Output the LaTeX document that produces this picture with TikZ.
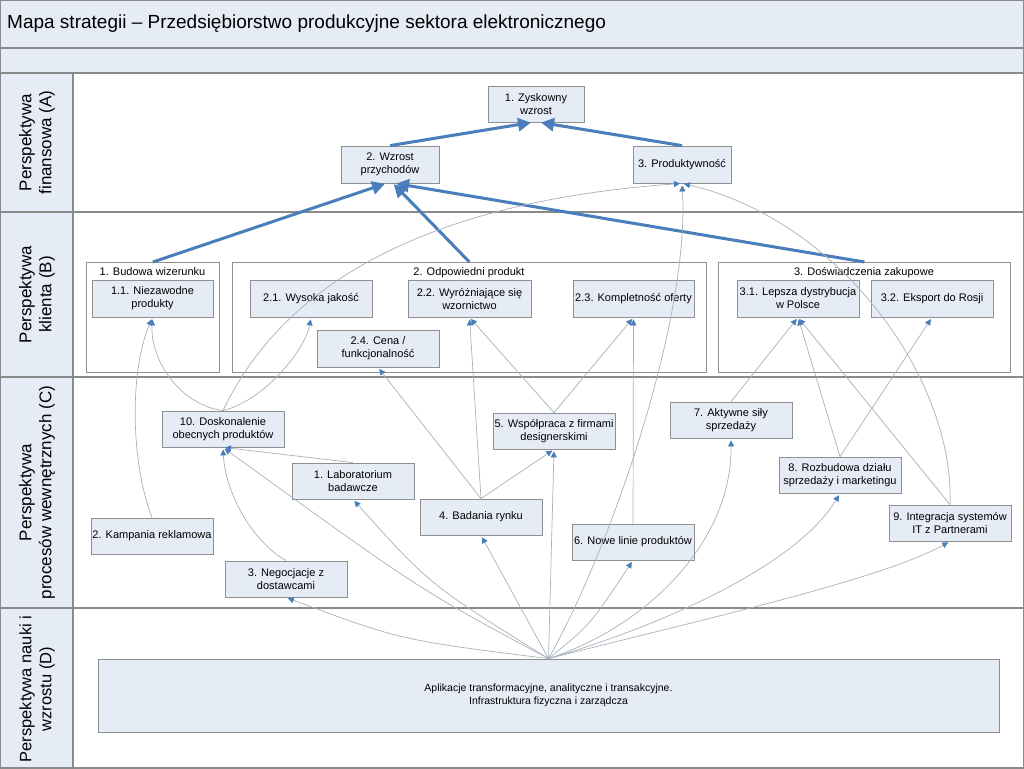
\documentclass[tikz,border=0pt]{standalone}
\usepackage{fontspec}
\setmainfont{Liberation Sans}
\usetikzlibrary{arrows.meta,calc}
\definecolor{boxfill}{HTML}{E6ECF6}
\definecolor{boxline}{HTML}{8F8F8F}
\definecolor{laneline}{HTML}{8A8A8A}
\definecolor{thinline}{HTML}{A9B1BC}
\definecolor{arrowblue}{HTML}{4A7EBB}
\begin{document}
\begin{tikzpicture}[x=1pt,y=-1pt,
  box/.style={draw=boxline, fill=boxfill, line width=0.8pt, minimum width=122pt, minimum height=36pt, inner sep=1pt, align=center, font=\fontsize{11}{13}\selectfont},
  grp/.style={draw=boxline, fill=white, line width=0.8pt, inner sep=0pt, anchor=north west},
  grptitle/.style={font=\fontsize{11}{13}\selectfont, inner sep=0pt, anchor=base},
  lanelabel/.style={rotate=90, align=center, font=\fontsize{17}{20}\selectfont, inner sep=0pt},
  weak/.style={draw=thinline, line width=0.7pt, -{Triangle[length=6pt,width=6pt,color=arrowblue]}, shorten >=2pt},
  strong/.style={draw=arrowblue, line width=3pt, -{Triangle[length=13pt,width=13pt]}, shorten >=1pt},
  lane/.style={draw=laneline, line width=1.1pt}
]
\useasboundingbox (0,0) rectangle (1024,768);
% background bands
\fill[white] (0,0) rectangle (1024,768);
\fill[boxfill] (0,0) rectangle (1024,73);
\fill[boxfill] (0,73) rectangle (73,768);
\draw[lane] (0,48) -- (1024,48);
\draw[lane] (0,73) -- (1024,73);
\draw[lane] (0,212) -- (1024,212);
\draw[lane] (0,377) -- (1024,377);
\draw[lane] (0,608) -- (1024,608);
\draw[lane] (73,73) -- (73,768);
\draw[laneline, line width=1.6pt] (0,0) rectangle (1024,768);

\node[anchor=west, font=\fontsize{19}{22}\selectfont, inner sep=0pt] (title) at (7,24) {Mapa strategii – Przedsiębiorstwo produkcyjne sektora elektronicznego};

\node[lanelabel] (lA) at (37,142.5) {Perspektywa\\finansowa (A)};
\node[lanelabel] (lB) at (37,294.5) {Perspektywa\\klienta (B)};
\node[lanelabel] (lC) at (37,492.5) {Perspektywa\\procesów wewnętrznych (C)};
\node[lanelabel, font=\fontsize{16.5}{20}\selectfont] (lD) at (37,689) {Perspektywa nauki i\\wzrostu (D)};

% lane A
\node[box, minimum width=96pt] (zysk) at (536,104) {1. Zyskowny\\wzrost};
\node[box, minimum width=98pt, minimum height=37pt] (wzrost) at (390,164.5) {2. Wzrost\\przychodów};
\node[box, minimum width=98pt, minimum height=37pt] (prod) at (682,164.5) {3. Produktywność};

% lane B groups
\node[grp, minimum width=133pt, minimum height=110pt] (g1) at (86,262) {};
\node[grp, minimum width=474pt, minimum height=110pt] (g2) at (232,262) {};
\node[grp, minimum width=292pt, minimum height=110pt] (g3) at (718,262) {};
\node[grptitle] (g1t) at (152.5,275) {1. Budowa wizerunku};
\node[grptitle] (g2t) at (469,275) {2. Odpowiedni produkt};
\node[grptitle] (g3t) at (864,275) {3. Doświadczenia zakupowe};

\node[box, minimum width=121pt, minimum height=37pt] (b11) at (152.5,298.5) {1.1. Niezawodne\\produkty};
\node[box, minimum height=37pt] (b21) at (311,298.5) {2.1. Wysoka jakość};
\node[box, minimum width=123pt, minimum height=37pt] (b22) at (469.5,298.5) {2.2. Wyróżniające się\\wzornictwo};
\node[box, minimum width=121pt, minimum height=37pt] (b23) at (633.5,298.5) {2.3. Kompletność oferty};
\node[box, minimum height=37pt] (b24) at (378,348.5) {2.4. Cena /\\funkcjonalność};
\node[box, minimum height=37pt] (b31) at (798,298.5) {3.1. Lepsza dystrybucja\\w Polsce};
\node[box, minimum height=37pt] (b32) at (932,298.5) {3.2. Eksport do Rosji};

% lane C
\node[box] (c10) at (223,429) {10. Doskonalenie\\obecnych produktów};
\node[box] (c1) at (353,481) {1. Laboratorium\\badawcze};
\node[box] (c2) at (152,536) {2. Kampania reklamowa};
\node[box] (c3) at (286,579) {3. Negocjacje z\\dostawcami};
\node[box] (c4) at (481,517) {4. Badania rynku};
\node[box] (c5) at (554,431) {5. Współpraca z firmami\\designerskimi};
\node[box] (c6) at (633,542) {6. Nowe linie produktów};
\node[box] (c7) at (731,420) {7. Aktywne siły\\sprzedaży};
\node[box] (c8) at (840,475) {8. Rozbudowa działu\\sprzedaży i marketingu};
\node[box] (c9) at (950,523) {9. Integracja systemów\\IT z Partnerami};

% lane D
\node[box, minimum width=901pt, minimum height=73pt, font=\fontsize{10.5}{13}\selectfont] (d) at (548.5,695.5) {Aplikacje transformacyjne, analityczne i transakcyjne.\\Infrastruktura fizyczna i zarządcza};

% strong connectors
\draw[strong] (wzrost.north) -- ($(zysk.south)+(-4,0)$);
\draw[strong] (prod.north) -- ($(zysk.south)+(4,0)$);
\draw[strong] (g1.north) -- ($(wzrost.south)+(-4,0)$);
\draw[strong] (g2.north) -- ($(wzrost.south)+(3,0)$);
\draw[strong] (g3.north) -- ($(wzrost.south)+(5,0)$);

% fan from D
\draw[weak] (d.north) .. controls (400,640) .. (c3.south);
\draw[weak] (d.north) .. controls (420,590) .. (c10.south);
\draw[weak] (d.north) .. controls (430,585) .. (c1.south);
\draw[weak] (d.north) -- (c4.south);
\draw[weak] (d.north) -- (c5.south);
\draw[weak] (d.north) .. controls (610,550) and (690,320) .. (prod.south);
\draw[weak] (d.north) .. controls (590,625) .. (c6.south);
\draw[weak] (d.north) .. controls (650,625) and (732,540) .. (c7.south);
\draw[weak] (d.north) .. controls (680,620) and (800,560) .. (c8.south);
\draw[weak] (d.north) .. controls (700,620) and (880,580) .. (c9.south);

% C to B / A
\draw[weak] (c10.north) .. controls (180,405) and (150,360) .. (b11.south);
\draw[weak] (c10.north) .. controls (265,400) and (305,350) .. (b21.south);
\draw[weak] (c10.north) .. controls (290,270) and (450,200) .. (prod.south);
\draw[weak] (c2.north) .. controls (130,460) and (130,370) .. (b11.south);
\draw[weak] (c3.north) .. controls (250,540) and (225,490) .. (c10.south);
\draw[weak] (c1.north) -- (c10.south);
\draw[weak] (c4.north) -- (b24.south);
\draw[weak] (c4.north) -- (b22.south);
\draw[weak] (c4.north) -- (c5.south);
\draw[weak] (c5.north) -- (b22.south);
\draw[weak] (c5.north) -- (b23.south);
\draw[weak] (c6.north) -- (b23.south);
\draw[weak] (c7.north) -- (b31.south);
\draw[weak] (c8.north) -- (b31.south);
\draw[weak] (c8.north) -- (b32.south);
\draw[weak] (c9.north) -- (b31.south);
\draw[weak] (c9.north) .. controls (955,380) and (840,220) .. (prod.south);
\end{tikzpicture}
\end{document}
